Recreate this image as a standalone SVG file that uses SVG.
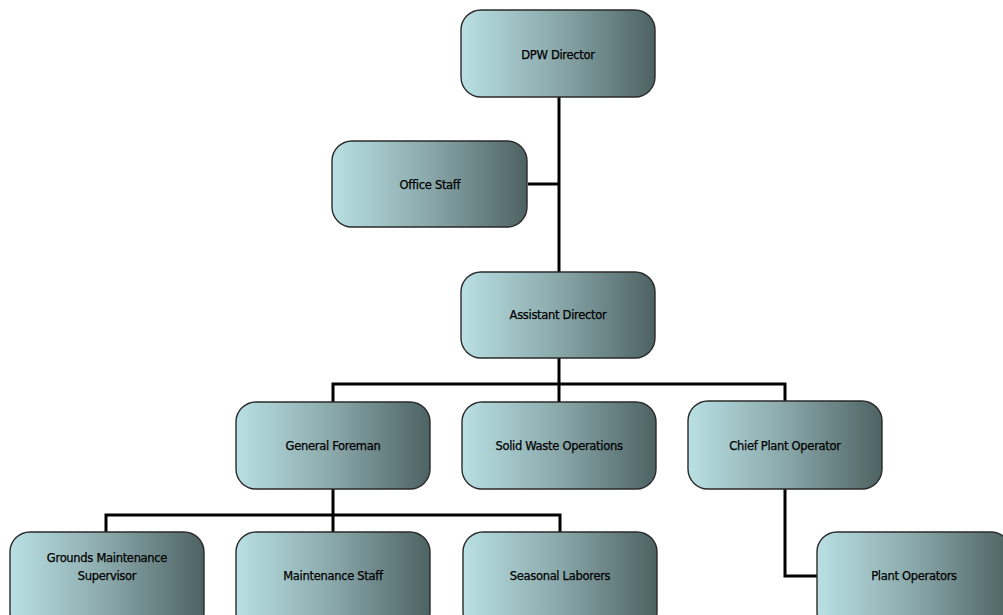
<svg xmlns="http://www.w3.org/2000/svg" width="1003" height="615" viewBox="0 0 1003 615">
<defs>
<linearGradient id="g" x1="0" y1="0" x2="1" y2="0">
<stop offset="0" stop-color="#b9e0e4"/>
<stop offset="0.5" stop-color="#8aa8aa"/>
<stop offset="1" stop-color="#4d6263"/>
</linearGradient>
<style>
.n rect{fill:url(#g);stroke:#2a2a2a;stroke-width:1.4}
.n text{font-family:"DejaVu Sans",sans-serif;font-size:11.5px;fill:#000;stroke:#000;stroke-width:0.25;text-anchor:middle;letter-spacing:-0.3px}
.c path{fill:none;stroke:#000;stroke-width:3}
</style>
</defs>
<rect width="1003" height="615" fill="#fff"/>
<g class="c">
<path d="M559 97V272"/>
<path d="M528 184H559"/>
<path d="M559 358V384"/>
<path d="M333 402V384H785V402"/>
<path d="M559 384V402"/>
<path d="M333 489V532"/>
<path d="M106 532V515H560V532"/>
<path d="M785 489V576H817"/>
</g>
<g id="dpw-director" class="n"><rect x="461" y="10" width="194" height="87" rx="20"/><text x="558" y="59">DPW Director</text></g>
<g id="office-staff" class="n"><rect x="332" y="141" width="195" height="86" rx="20"/><text x="430" y="189">Office Staff</text></g>
<g id="assistant-director" class="n"><rect x="461" y="272" width="194" height="86" rx="20"/><text x="558" y="319">Assistant Director</text></g>
<g id="general-foreman" class="n"><rect x="236" y="402" width="194" height="87" rx="20"/><text x="333" y="450">General Foreman</text></g>
<g id="solid-waste" class="n"><rect x="462" y="402" width="194" height="87" rx="20"/><text x="559" y="450">Solid Waste Operations</text></g>
<g id="chief-plant-operator" class="n"><rect x="688" y="401" width="194" height="88" rx="20"/><text x="785" y="450">Chief Plant Operator</text></g>
<g id="grounds-supervisor" class="n"><rect x="10" y="532" width="194" height="100" rx="20"/><text x="107" y="562">Grounds Maintenance</text><text x="107" y="580">Supervisor</text></g>
<g id="maintenance-staff" class="n"><rect x="236" y="532" width="194" height="100" rx="20"/><text x="333" y="580">Maintenance Staff</text></g>
<g id="seasonal-laborers" class="n"><rect x="463" y="532" width="194" height="100" rx="20"/><text x="560" y="580">Seasonal Laborers</text></g>
<g id="plant-operators" class="n"><rect x="817" y="532" width="194" height="100" rx="20"/><text x="914" y="580">Plant Operators</text></g>
</svg>
